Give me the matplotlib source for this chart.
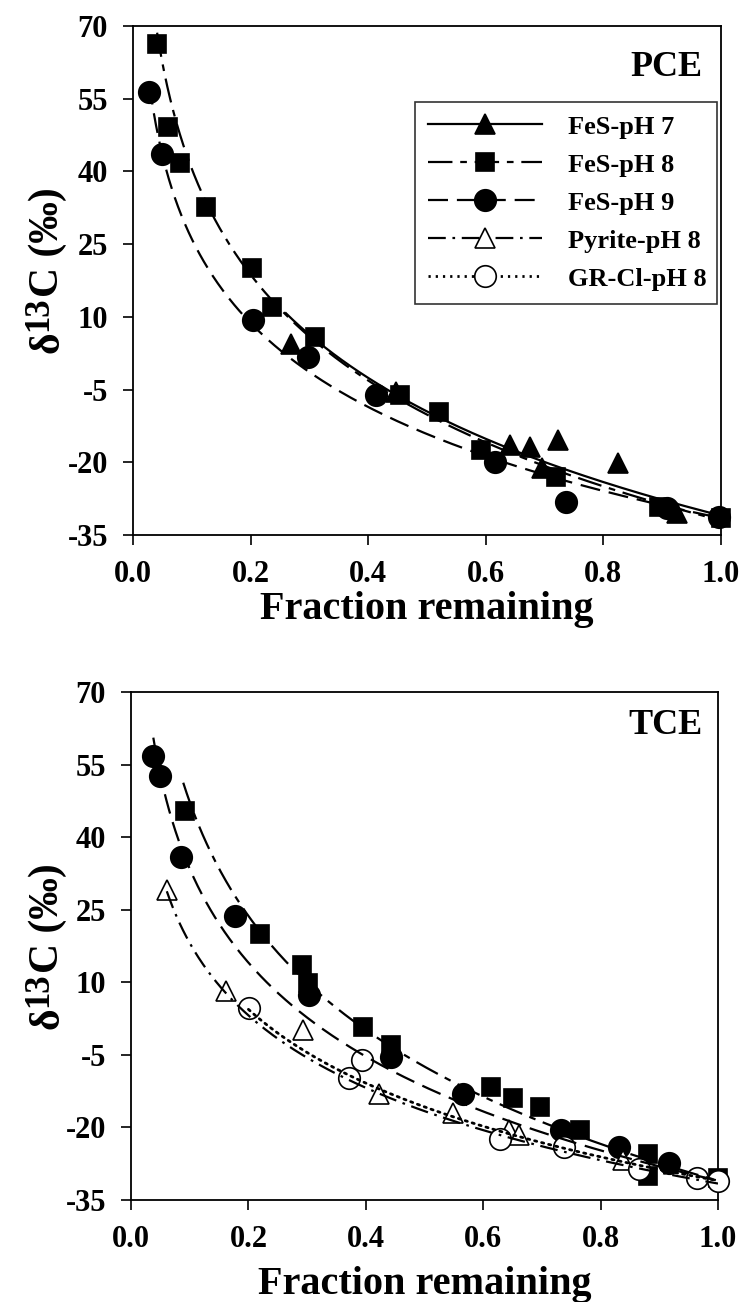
import numpy as np
import matplotlib
matplotlib.use("Agg")
import matplotlib.pyplot as plt
from matplotlib.lines import Line2D

plt.rcParams['font.family'] = ['Liberation Serif', 'DejaVu Serif']
plt.rcParams['font.weight'] = 'bold'

# ---------------- data: PCE (top panel) ----------------
pce_fes7_f = [0.268, 0.447, 0.642, 0.676, 0.696, 0.723, 0.824, 0.926]
pce_fes7_d = [4.5, -5.5, -16.4, -16.8, -21.2, -15.4, -20.2, -30.5]
pce_fes8_f = [0.041, 0.060, 0.080, 0.124, 0.203, 0.236, 0.309, 0.454, 0.521, 0.592, 0.720, 0.895, 1.0]
pce_fes8_d = [66.3, 49.1, 41.8, 32.6, 20.0, 12.0, 5.9, -6.1, -9.6, -17.5, -23.0, -29.2, -31.5]
pce_fes9_f = [0.028, 0.049, 0.204, 0.298, 0.413, 0.615, 0.737, 0.909, 0.997]
pce_fes9_d = [56.4, 43.6, 9.4, 1.8, -6.1, -19.9, -28.1, -29.5, -31.2]

# Rayleigh fit parameters (start fraction, delta0, enrichment) for PCE
pce_fit_start = [0.26, 0.041, 0.028]
pce_fit_d0 = [-31.0, -32.0, -31.5]
pce_fit_eps = [31.0, 31.5, 25.0]

# ---------------- data: TCE (bottom panel) ----------------
tce_fes8_f = [0.092, 0.220, 0.292, 0.302, 0.396, 0.443, 0.614, 0.651, 0.697, 0.765, 0.880, 0.880, 1.0]
tce_fes8_d = [45.5, 20.0, 13.6, 9.8, 0.8, -3.0, -11.6, -14.0, -15.7, -20.5, -25.5, -30.0, -30.5]
tce_fes9_f = [0.038, 0.049, 0.085, 0.177, 0.304, 0.443, 0.566, 0.732, 0.832, 0.916]
tce_fes9_d = [56.8, 52.6, 35.8, 23.8, 7.4, -5.4, -13.0, -20.5, -24.0, -27.4]
tce_pyr_f = [0.061, 0.161, 0.293, 0.423, 0.549, 0.644, 0.661, 0.839]
tce_pyr_d = [29.1, 8.1, 0.1, -13.0, -17.1, -20.5, -21.6, -26.7]
tce_gr_f = [0.201, 0.371, 0.393, 0.629, 0.738, 0.865, 0.965, 1.0]
tce_gr_d = [4.6, -9.8, -6.1, -22.3, -24.0, -28.5, -30.5, -31.0]

# Rayleigh fit parameters for TCE: FeS-pH8, FeS-pH9, Pyrite, GR-Cl
tce_fit_start = [0.089, 0.038, 0.061, 0.20]
tce_fit_d0 = [-31.0, -31.0, -31.6, -31.0]
tce_fit_eps = [34.0, 28.0, 21.6, 22.0]

labels = ['FeS-pH 7', 'FeS-pH 8', 'FeS-pH 9', 'Pyrite-pH 8', 'GR-Cl-pH 8']
xticks = [0.0, 0.2, 0.4, 0.6, 0.8, 1.0]
yticks = [-35, -20, -5, 10, 25, 40, 55, 70]
ylabel_parts = ['δ', '13', 'C (‰)']

# ---------------- styles ----------------
LW = 1.6
styles = {
    'FeS-pH 7': dict(ls='-', marker='^', mfc='black', ms=15),
    'FeS-pH 8': dict(ls=(0, (11, 3.5, 3, 3.5)), marker='s', mfc='black', ms=13.5),
    'FeS-pH 9': dict(ls=(0, (9, 4)), marker='o', mfc='black', ms=15.5),
    'Pyrite-pH 8': dict(ls=(0, (8, 3, 1.2, 3)), marker='^', mfc='white', ms=15),
    'GR-Cl-pH 8': dict(ls=(0, (0.8, 1.8)), marker='o', mfc='white', ms=15.5),
}

W, H = 744, 1302


def rayleigh(f0, d0, eps):
    f = np.geomspace(f0, 1.0, 300)
    return f, d0 - eps * np.log(f)


def draw_series(ax, f, d, name, z):
    st = styles[name]
    ax.plot(f, d, ls='none', marker=st['marker'], ms=st['ms'], mfc=st['mfc'],
            mec='black', mew=1.2, zorder=z, clip_on=False)


def draw_fit(ax, f0, d0, eps, name):
    st = styles[name]
    xf, yf = rayleigh(f0, d0, eps)
    lw = 2.0 if name == 'GR-Cl-pH 8' else LW
    ax.plot(xf, yf, ls=st['ls'], color='black', lw=lw, zorder=10,
            dash_capstyle='round' if name == 'GR-Cl-pH 8' else 'butt')


def style_axes(ax, title, tx, ty, xlab_y):
    ax.set_xlim(0, 1.0)
    ax.set_ylim(-35, 70)
    ax.set_xticks(xticks)
    ax.set_xticklabels(['%.1f' % t for t in xticks])
    ax.set_yticks(yticks)
    ax.set_yticklabels([str(t) for t in yticks])
    ax.tick_params(direction='out', length=7, width=1.2, labelsize=22, pad=11)
    for s in ax.spines.values():
        s.set_linewidth(1.3)
    ax.set_xlabel('Fraction remaining', fontsize=29, fontweight='bold')
    ax.xaxis.set_label_coords(0.5, xlab_y)
    ax.text(tx, ty, title, transform=ax.transAxes, ha='right', va='center',
            fontsize=26, fontweight='bold')


def manual_ylabel(fig, renderer, x_base, y_center):
    sizes = [30, 25, 30]
    raises = [0, 11, 0]
    widths = []
    for s, fs in zip(ylabel_parts, sizes):
        t = fig.text(0, 0, s, fontsize=fs, fontweight='bold')
        widths.append(t.get_window_extent(renderer).width)
        t.remove()
    y = y_center - sum(widths) / 2.0
    for s, fs, r, w in zip(ylabel_parts, sizes, raises, widths):
        fig.text((x_base - r) / W, y / H, s, fontsize=fs, fontweight='bold',
                 rotation=90, rotation_mode='anchor', ha='left', va='baseline')
        y += w


fig = plt.figure(figsize=(7.44, 13.02), dpi=100)
ax1 = fig.add_axes([133 / W, 1 - 535 / H, 588 / W, 509 / H])
ax2 = fig.add_axes([131 / W, 1 - 1200 / H, 587 / W, 508 / H])

# top panel
draw_series(ax1, pce_fes7_f, pce_fes7_d, 'FeS-pH 7', 3)
draw_series(ax1, pce_fes8_f, pce_fes8_d, 'FeS-pH 8', 4)
draw_series(ax1, pce_fes9_f, pce_fes9_d, 'FeS-pH 9', 5)
for i, name in enumerate(['FeS-pH 7', 'FeS-pH 8', 'FeS-pH 9']):
    draw_fit(ax1, pce_fit_start[i], pce_fit_d0[i], pce_fit_eps[i], name)
style_axes(ax1, 'PCE', 0.969, 0.919, -0.11)

# bottom panel
draw_series(ax2, tce_fes8_f, tce_fes8_d, 'FeS-pH 8', 3)
draw_series(ax2, tce_fes9_f, tce_fes9_d, 'FeS-pH 9', 4)
draw_series(ax2, tce_pyr_f, tce_pyr_d, 'Pyrite-pH 8', 5)
draw_series(ax2, tce_gr_f, tce_gr_d, 'GR-Cl-pH 8', 6)
for i, name in enumerate(['FeS-pH 8', 'FeS-pH 9', 'Pyrite-pH 8', 'GR-Cl-pH 8']):
    draw_fit(ax2, tce_fit_start[i], tce_fit_d0[i], tce_fit_eps[i], name)
style_axes(ax2, 'TCE', 0.974, 0.934, -0.13)

# legend (top panel)
handles = []
for name in labels:
    st = styles[name]
    lw = 2.0 if name == 'GR-Cl-pH 8' else LW
    handles.append(Line2D([], [], color='black', ls=st['ls'], lw=lw, marker=st['marker'],
                          ms=st['ms'], mfc=st['mfc'], mec='black', mew=1.2))
leg = ax1.legend(handles, labels, loc='upper left', bbox_to_anchor=(0.4796, 0.8507, 0.5134, 0.0),
                 mode='expand', frameon=True, fancybox=False, edgecolor='black',
                 handlelength=4.3, handletextpad=1.0, labelspacing=0.55, borderpad=0.5,
                 borderaxespad=0.0,
                 prop={'family': 'Liberation Serif', 'weight': 'bold', 'size': 19})
leg.get_frame().set_linewidth(1.2)
leg.set_zorder(20)

# y labels (delta 13 C with large raised superscript)
renderer = fig.canvas.get_renderer()
manual_ylabel(fig, renderer, 58, H - 270)
manual_ylabel(fig, renderer, 58, H - 946)

fig.savefig('out.png', dpi=100)
